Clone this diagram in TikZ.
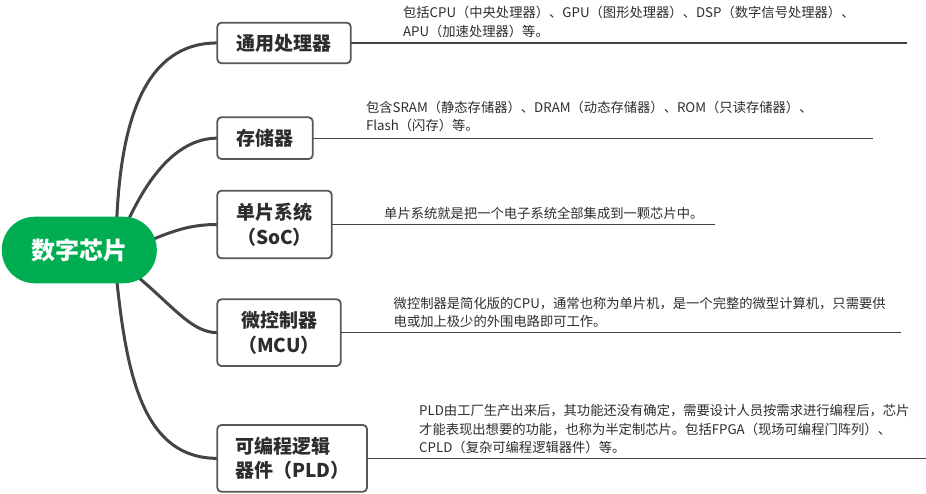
\documentclass[tikz,border=0pt]{standalone}
\usepackage{fontspec}
\setmainfont{Noto Sans CJK SC}
\usetikzlibrary{backgrounds}
\definecolor{rootgreen}{RGB}{0,173,80}
\definecolor{linegray}{RGB}{68,68,68}
\definecolor{boxgray}{RGB}{88,88,88}
\definecolor{txtgray}{RGB}{45,45,45}
\begin{document}
\begin{tikzpicture}[x=1pt,y=-1pt,
  topic/.style={draw=boxgray, line width=1.8pt, rounded corners=4pt, fill=white,
    inner sep=0pt, outer sep=0pt, anchor=north west,
    font=\fontsize{19}{24.5}\selectfont\bfseries, text=txtgray, align=center},
  branch/.style={draw=linegray, line width=3pt},
  uline/.style={draw=linegray, line width=1.3pt},
  desc/.style={anchor=west, inner sep=0pt, font=\fontsize{13.3}{18.5}\selectfont,
    text=txtgray, align=left}]
\useasboundingbox (0,0) rectangle (926,493);

\node[fill=rootgreen, rounded corners=33pt, minimum width=155pt, minimum height=66.6pt,
  inner sep=0pt, outer sep=0pt, text=white, font=\fontsize{24}{24}\selectfont\bfseries]
  (root) at (79.3,250) {数字芯片};

\node[topic, minimum width=133.5pt, minimum height=40.5pt] (b1) at (217.3,22.7) {通用处理器};
\node[topic, minimum width=95.4pt, minimum height=41.7pt] (b2) at (217.3,117.3) {存储器};
\node[topic, minimum width=114.4pt, minimum height=67.6pt] (b3) at (217.3,190.7) {单片系统\\（SoC）};
\node[topic, minimum width=123.4pt, minimum height=66.7pt] (b4) at (217.3,299.3) {微控制器\\（MCU）};
\node[topic, align=left, minimum width=149.7pt, minimum height=66.7pt] (b5) at (217.3,425) {可编程逻辑\\器件（PLD）};

\begin{scope}[on background layer]
\draw[branch] ([xshift=37.4pt,yshift=29pt]root.center) .. controls (121,120) and (145,42.9) .. (b1.west);
\draw[branch] ([xshift=47.7pt,yshift=27pt]root.center) .. controls (143,188) and (172,138.2) .. (b2.west);
\draw[branch] ([xshift=70.7pt,yshift=9.5pt]root.center) .. controls (175,230) and (192,224.5) .. (b3.west);
\draw[branch] ([xshift=55.7pt,yshift=-24.5pt]root.center) .. controls (175,308) and (192,332.6) .. (b4.west);
\draw[branch] ([xshift=37.4pt,yshift=-29pt]root.center) .. controls (127,380) and (145,458.3) .. (b5.west);
\end{scope}

\coordinate (e1) at (907,0);
\coordinate (e2) at (873,0);
\coordinate (e3) at (714.7,0);
\coordinate (e4) at (901,0);
\coordinate (e5) at (926,0);
\draw[uline] (b1.east) -- (b1.east -| e1);
\draw[uline] (b2.east) -- (b2.east -| e2);
\draw[uline] (b3.east) -- (b3.east -| e3);
\draw[uline] (b4.east) -- (b4.east -| e4);
\draw[uline] (b5.east) -- (b5.east -| e5);

\node[desc] (d1) at (402.8,21.9) {包括CPU（中央处理器）、GPU（图形处理器）、DSP（数字信号处理器）、\\APU（加速处理器）等。};
\node[desc] (d2) at (365.8,116.4) {包含SRAM（静态存储器）、DRAM（动态存储器）、ROM（只读存储器）、\\Flash（闪存）等。};
\node[desc] (d3) at (384,213) {单片系统就是把一个电子系统全部集成到一颗芯片中。};
\node[desc] (d4) at (393.5,312.4) {微控制器是简化版的CPU，通常也称为单片机，是一个完整的微型计算机，只需要供\\电或加上极少的外围电路即可工作。};
\node[desc] (d5) at (419,429.3) {PLD由工厂生产出来后，其功能还没有确定，需要设计人员按需求进行编程后，芯片\\才能表现出想要的功能，也称为半定制芯片。包括FPGA（现场可编程门阵列）、\\CPLD（复杂可编程逻辑器件）等。};
\end{tikzpicture}
\end{document}
